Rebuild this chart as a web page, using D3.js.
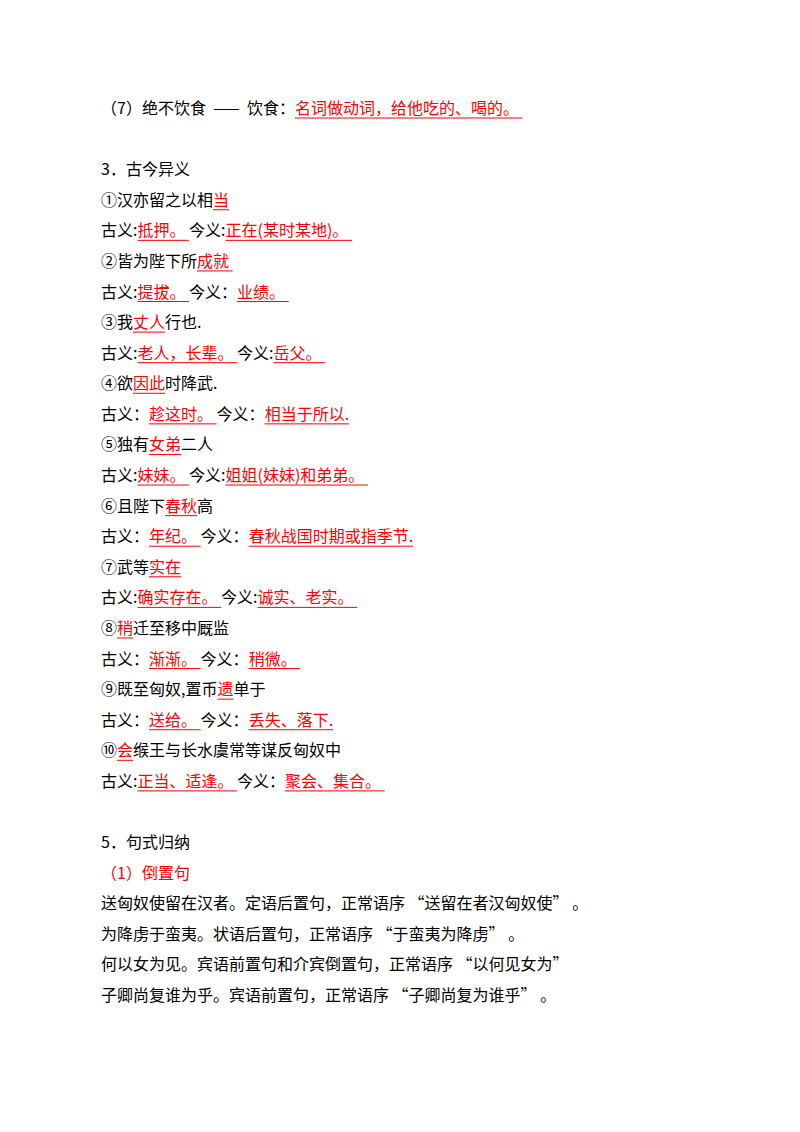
<!DOCTYPE html>
<meta charset="utf-8">
<script src="https://d3js.org/d3.v7.min.js"></script>
<style>body{margin:0;background:#fff}</style>
<div id="page"></div>
<script>
// each line: row number, then segments [text, kind]  n=normal, u=red underlined, r=red
var rows = [0, 2, 3, 4, 5, 6, 7, 8, 9, 10, 11, 12, 13, 14, 15, 16, 17, 18, 19, 20, 21, 22, 24, 25, 26, 27, 28, 29];
var lines = [
  [["（7）绝不饮食  ——  饮食：", "n"], ["名词做动词，给他吃的、喝的。 ", "u"]],
  [["3．古今异义", "n"]],
  [["①汉亦留之以相", "n"], ["当", "u"]],
  [["古义:", "n"], ["抵押。 ", "u"], ["今义:", "n"], ["正在(某时某地)。 ", "u"]],
  [["②皆为陛下所", "n"], ["成就 ", "u"]],
  [["古义:", "n"], ["提拔。 ", "u"], ["今义：", "n"], ["业绩。 ", "u"]],
  [["③我", "n"], ["丈人", "u"], ["行也.", "n"]],
  [["古义:", "n"], ["老人，长辈。 ", "u"], ["今义:", "n"], ["岳父。 ", "u"]],
  [["④欲", "n"], ["因此", "u"], ["时降武.", "n"]],
  [["古义：", "n"], ["趁这时。 ", "u"], ["今义：", "n"], ["相当于所以.", "u"]],
  [["⑤独有", "n"], ["女弟", "u"], ["二人", "n"]],
  [["古义:", "n"], ["妹妹。 ", "u"], ["今义:", "n"], ["姐姐(妹妹)和弟弟。 ", "u"]],
  [["⑥且陛下", "n"], ["春秋", "u"], ["高", "n"]],
  [["古义：", "n"], ["年纪。 ", "u"], ["今义：", "n"], ["春秋战国时期或指季节.", "u"]],
  [["⑦武等", "n"], ["实在", "u"]],
  [["古义:", "n"], ["确实存在。 ", "u"], ["今义:", "n"], ["诚实、老实。 ", "u"]],
  [["⑧", "n"], ["稍", "u"], ["迁至移中厩监", "n"]],
  [["古义：", "n"], ["渐渐。 ", "u"], ["今义：", "n"], ["稍微。 ", "u"]],
  [["⑨既至匈奴,置币", "n"], ["遗", "u"], ["单于", "n"]],
  [["古义：", "n"], ["送给。 ", "u"], ["今义：", "n"], ["丢失、落下.", "u"]],
  [["⑩", "n"], ["会", "u"], ["缑王与长水虞常等谋反匈奴中", "n"]],
  [["古义:", "n"], ["正当、适逢。 ", "u"], ["今义：", "n"], ["聚会、集合。 ", "u"]],
  [["5．句式归纳", "n"]],
  [["（1）倒置句", "r"]],
  [["送匈奴使留在汉者。定语后置句，正常语序 “送留在者汉匈奴使” 。", "n"]],
  [["为降虏于蛮夷。状语后置句，正常语序 “于蛮夷为降虏” 。", "n"]],
  [["何以女为见。宾语前置句和介宾倒置句，正常语序 “以何见女为”", "n"]],
  [["子卿尚复谁为乎。宾语前置句，正常语序 “子卿尚复为谁乎” 。", "n"]]
];

var y = d3.scaleLinear().domain([0, 29]).range([114, 1001]);
var svg = d3.select("#page").append("svg").attr("width", 800).attr("height", 1132);
var red = "#ff0000";

lines.forEach(function(segs, i) {
  var x = 101, by = y(rows[i]);
  segs.forEach(function(s) {
    var t = svg.append("text").attr("x", x).attr("y", by)
      .attr("font-family", "'Noto Sans CJK SC', sans-serif").attr("font-size", 16)
      .attr("fill", s[1] == "n" ? "#000" : red)
      .style("white-space", "pre").text(s[0]);
    var w = t.node().getComputedTextLength();
    if (s[1] == "u") {
      svg.append("line").attr("x1", x).attr("x2", x + w)
        .attr("y1", by + 4).attr("y2", by + 4)
        .attr("stroke", red).attr("stroke-width", 1);
    }
    x += w;
  });
});
</script>
